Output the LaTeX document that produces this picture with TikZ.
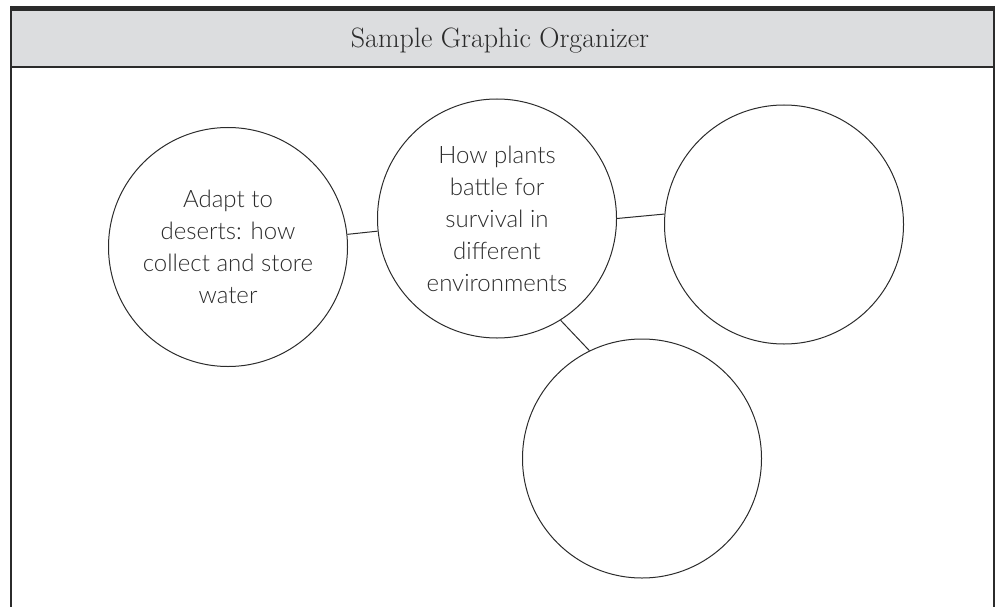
\documentclass[tikz,border=0pt]{standalone}
\usepackage{fontspec}
\newfontfamily\handfont{Lato}[UprightFont={* Light}]
\definecolor{framegray}{HTML}{2B2B2B}
\definecolor{headgray}{HTML}{DCDDDF}
\tikzset{
  bubble/.style={circle, draw=framegray, line width=1pt, minimum size=239pt, inner sep=0pt,
    align=center, text=framegray, font=\handfont\fontsize{24}{32}\selectfont},
  link/.style={draw=framegray, line width=1pt}
}
\begin{document}
\begin{tikzpicture}[x=1pt, y=-1pt]
    \useasboundingbox (0,0) rectangle (995,607);
    % 見出しの帯
    \fill[headgray] (11,11) rectangle (993,66);
    \draw[framegray, line width=5pt] (10,8.5) -- (995,8.5);
    \draw[framegray, line width=2pt] (11,67) -- (994,67);
    \draw[framegray, line width=2pt] (11,6) -- (11,607);
    \draw[framegray, line width=2pt] (993.5,6) -- (993.5,607);
    \node[anchor=base, font=\fontsize{28}{30}\selectfont, text=framegray] (title) at (500,48) {Sample Graphic Organizer};
    % 円
    \node[bubble] (water) at (228,247) {Adapt to\\deserts: how\\collect and store\\water};
    \node[bubble] (hub) at (497,218.5) {How plants\\battle for\\survival in\\different\\environments};
    \node[bubble] (blankright) at (784,224.5) {};
    \node[bubble] (blankbelow) at (642,458.5) {};
    % 線
    \draw[link] (water) -- (hub);
    \draw[link] (hub.0) -- (blankright.175);
    \draw[link] (hub.-58) -- (blankbelow.116);
\end{tikzpicture}
\end{document}
